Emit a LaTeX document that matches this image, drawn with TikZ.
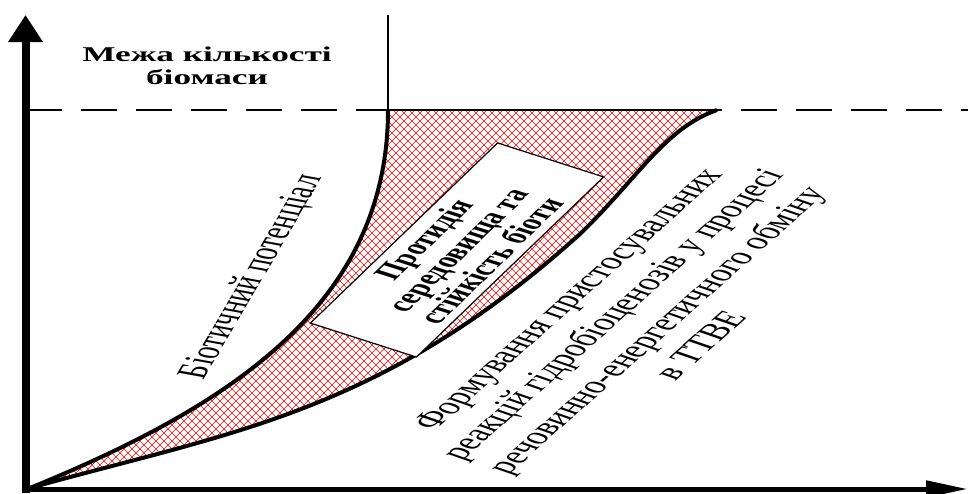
\documentclass[tikz,border=0pt]{standalone}
\usepackage{fontspec}
\setmainfont{Liberation Serif}
\usetikzlibrary{arrows.meta, patterns}
\pgfdeclarepatternformonly{redmesh}{\pgfqpoint{-1pt}{-1pt}}{\pgfqpoint{9pt}{9pt}}{\pgfqpoint{8pt}{8pt}}{%
  \pgfsetlinewidth{0.4pt}
  \pgfpathmoveto{\pgfqpoint{0pt}{0pt}}\pgfpathlineto{\pgfqpoint{8.1pt}{8.1pt}}
  \pgfpathmoveto{\pgfqpoint{0pt}{8pt}}\pgfpathlineto{\pgfqpoint{8.1pt}{-0.1pt}}
  \pgfusepath{stroke}}
\tikzstyle{hatch} = [pattern=redmesh, pattern color=red]
\tikzstyle{curve} = [draw, line width=4pt]
\tikzstyle{limit} = [draw, line width=2.5pt, dash pattern=on 36pt off 19pt]
\tikzstyle{yaxis} = [draw, line width=8pt, -{Triangle[length=27pt, width=33pt]}]
\tikzstyle{xaxis} = [draw, line width=5pt, -{Triangle[length=42pt, width=16pt]}]
\tikzstyle{heading} = [font=\fontsize{21}{23}\selectfont\bfseries, align=center, xscale=1.68]
\tikzstyle{tilted} = [align=center, xscale=1.8]
\tikzstyle{notebox} = [tilted, draw, fill=white, line width=1.2pt, inner sep=1pt,
    minimum width=208pt, minimum height=68pt, font=\fontsize{21}{21.5}\selectfont\bfseries]

\begin{document}
\begin{tikzpicture}[x=1pt, y=-1pt]
        \useasboundingbox (0,0) rectangle (968,493);
        % Place coordinates
        \coordinate (origin) at (30,488);
        \coordinate (bend) at (388,110);
        \coordinate (hook) at (717,110);
        \coordinate (mid) at (580,234);
        \coordinate (ytop) at (25.5,15);
        \coordinate (ybot) at (25.5,493);
        \coordinate (xleft) at (21.5,489);
        \coordinate (xright) at (968,489);
        \coordinate (dashleft) at (25.5,110);
        \coordinate (dashright) at (968,110);
        \coordinate (mark) at (388,15);
        % Hatched zone
        \fill [hatch] (origin) .. controls (220,410) and (388,310) .. (bend) -- (hook)
            .. controls (665,128) and (638,178) .. (mid)
            .. controls (380,414) and (230,432) .. (origin) -- cycle;
        % Draw curves and lines
        \path [curve] (origin) .. controls (220,410) and (388,310) .. (bend);
        \path [curve] (origin) .. controls (230,432) and (380,414) .. (mid)
            .. controls (638,178) and (665,128) .. (hook);
        \path [limit] (dashleft) -- (dashright);
        \path [draw, line width=2.5pt] (bend) -- (hook);
        \path [draw, line width=1.5pt] (mark) -- (bend);
        \path [yaxis] (ybot) -- (ytop);
        \path [xaxis] (xleft) -- (xright);
        % Place nodes
        \node [notebox, rotate=60] (box) at (457,250) {Протидія\\середовища та\\стійкість біоти};
        \node [heading] (limittext) at (207,66) {Межа кількості\\біомаси};
        \node [tilted, rotate=72, font=\fontsize{24}{28}\selectfont] (potential) at (253,277) {Біотичний потенціал};
        \node [tilted, rotate=58, font=\fontsize{23.5}{29}\selectfont] (exchange) at (634,322)
            {Формування пристосувальних\\реакцій гідробіоценозів у процесі\\речовинно-енергетичного обміну\\в ТТВЕ};
    \end{tikzpicture}
\end{document}
